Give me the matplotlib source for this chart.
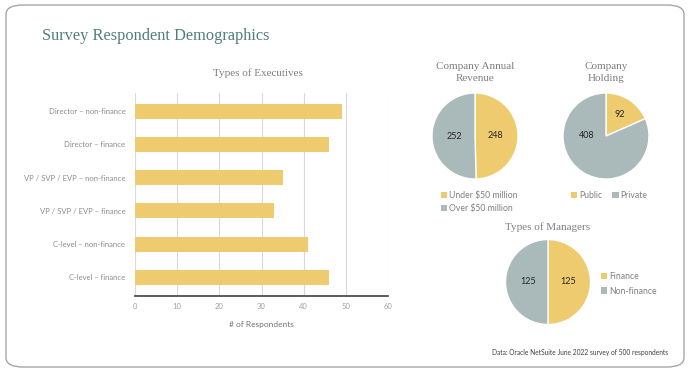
import matplotlib
matplotlib.use("Agg")
import matplotlib.pyplot as plt
from matplotlib.patches import FancyBboxPatch, Patch

# ---- data ----
exec_categories = ["Director – non-finance", "Director – finance",
                   "VP / SVP / EVP – non-finance", "VP / SVP / EVP – finance",
                   "C-level – non-finance", "C-level – finance"]
exec_values = [49, 46, 35, 33, 41, 46]
x_ticks = [0, 10, 20, 30, 40, 50, 60]

revenue_labels = ["Under $50 million", "Over $50 million"]
revenue_values = [248, 252]
holding_labels = ["Public", "Private"]
holding_values = [92, 408]
manager_labels = ["Finance", "Non-finance"]
manager_values = [125, 125]

YELLOW = "#EECB6F"
GRAY = "#AAB9BA"
TITLE_C = "#4F7F7B"
SUB_C = "#7F7F7F"
TICK_C = "#A0A0A0"
SERIF = "Liberation Serif"
SANS = "Lato"

W, H = 690, 373
fig = plt.figure(figsize=(W / 100, H / 100), dpi=100)
fig.patch.set_facecolor("white")


def px_axes(x0, y0, x1, y1):
    return fig.add_axes([x0 / W, 1 - y1 / H, (x1 - x0) / W, (y1 - y0) / H])


def fx(x):
    return x / W


def fy(y):
    return 1 - y / H


# border
border = FancyBboxPatch((fx(6), fy(367)), fx(678), (362) / H,
                        boxstyle="round,pad=0,rounding_size=0.025",
                        transform=fig.transFigure, facecolor="none",
                        edgecolor="#A6A6A6", linewidth=1.0, zorder=-1)
fig.patches.append(border)

fig.text(fx(42), fy(36), "Survey Respondent Demographics", family=SERIF,
         fontsize=11.8, color=TITLE_C, ha="left", va="center")

# ---- bar chart ----
ax = px_axes(135, 93, 388, 296)
ypos = list(range(len(exec_categories)))
ax.barh(ypos, exec_values, height=0.45, color=YELLOW, zorder=2)
ax.set_ylim(5.56, -0.55)
ax.set_xlim(0, 60)
ax.set_xticks(x_ticks)
ax.set_yticks(ypos)
ax.set_yticklabels(exec_categories)
ax.grid(axis="x", color="#D9D9D9", linewidth=0.8, zorder=0)
ax.set_axisbelow(True)
ax.tick_params(axis="both", length=0, labelsize=5.5, colors=TICK_C)
ax.tick_params(axis="y", pad=7, colors="#8C8C8C")
ax.tick_params(axis="x", pad=5)
for s in ["left", "right", "top"]:
    ax.spines[s].set_visible(False)
ax.spines["bottom"].set_color("#404040")
ax.spines["bottom"].set_linewidth(1.2)
for lab in ax.get_xticklabels() + ax.get_yticklabels():
    lab.set_family(SANS)
ax.set_xlabel("# of Respondents", family=SANS, fontsize=6, color="#737373", labelpad=8)
fig.text(fx(258), fy(73), "Types of Executives", family=SERIF, fontsize=8,
         color=SUB_C, ha="center", va="center")


def make_pie(cx, cy, r, values, labels, title, title_y, ldist):
    a = px_axes(cx - r, cy - r, cx + r, cy + r)
    wedges, texts = a.pie(values, colors=[YELLOW, GRAY], startangle=90,
                          counterclock=False, labels=[str(v) for v in values],
                          labeldistance=ldist,
                          wedgeprops=dict(edgecolor="white", linewidth=1.0),
                          textprops=dict(family=SANS, fontsize=6.5, color="#262626"))
    for t in texts:
        t.set_ha("center")
        t.set_va("center")
    a.set_xlim(-1, 1)
    a.set_ylim(-1, 1)
    a.set_aspect("equal")
    fig.text(fx(cx), fy(title_y), title, family=SERIF, fontsize=8, color=SUB_C,
             ha="center", va="center", linespacing=1.5)
    return a, wedges, texts


a1, w1, t1 = make_pie(475, 136, 43, revenue_values, revenue_labels,
                      "Company Annual\nRevenue", 72.5, 0.47)
a2, w2, t2 = make_pie(606, 136, 43, holding_values, holding_labels,
                      "Company\nHolding", 72.5, 0.6)
# Excel-style "best fit" placement for the large slice label
t2[1].set_position((-0.45, 0.0))
a3, w3, t3 = make_pie(548, 282, 42.5, manager_values, manager_labels,
                      "Types of Managers", 227, 0.47)

leg_kw = dict(frameon=False, handlelength=0.75, handleheight=0.75,
              handletextpad=0.15, borderpad=0, borderaxespad=0,
              bbox_transform=fig.transFigure,
              prop=dict(family=SANS, size=6.2), labelcolor="#808080")

handles = [Patch(facecolor=YELLOW), Patch(facecolor=GRAY)]
a1.legend(handles, revenue_labels, loc="upper left",
          bbox_to_anchor=(fx(441), fy(191)), labelspacing=0.5, **leg_kw)
a2.legend(handles, holding_labels, loc="upper left", ncol=2, columnspacing=1.2,
          bbox_to_anchor=(fx(571), fy(191)), **leg_kw)
a3.legend(handles, manager_labels, loc="upper left", labelspacing=0.65,
          bbox_to_anchor=(fx(601), fy(272)), **leg_kw)

fig.text(fx(668), fy(352), "Data: Oracle NetSuite June 2022 survey of 500 respondents",
         family=SANS, fontsize=4.8, color="#404040", ha="right", va="center")

fig.savefig("out.png", dpi=100, facecolor="white")
